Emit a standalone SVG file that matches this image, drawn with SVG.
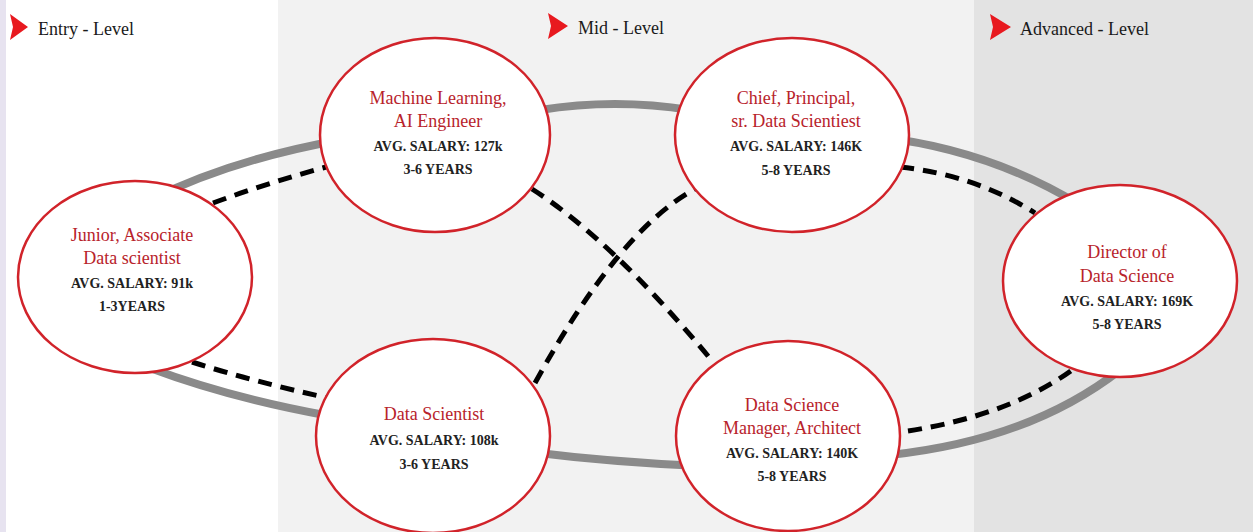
<svg xmlns="http://www.w3.org/2000/svg" width="1253" height="532" viewBox="0 0 1253 532">
<style>
.zone-label{font-family:"Liberation Serif","Times New Roman",serif;font-size:18px;fill:#1a1a1a}
.tri{fill:#e8191f}
.node ellipse{fill:#ffffff;stroke:#d1232a;stroke-width:2.5}
.title{font-family:"Liberation Serif","Times New Roman",serif;font-size:18px;fill:#b8232b;text-anchor:middle}
.info{font-family:"Liberation Serif","Times New Roman",serif;font-size:14px;font-weight:bold;fill:#222222;text-anchor:middle}
.solid{fill:none;stroke:#8a8a8a;stroke-width:8;stroke-linecap:butt}
.dash{fill:none;stroke:#000000;stroke-width:5;stroke-dasharray:14 9}
</style>
<g id="background">
<rect x="0" y="0" width="1253" height="532" fill="#ffffff"/>
<rect x="0" y="0" width="6" height="532" fill="#e7e3f0"/>
<rect x="278" y="0" width="696" height="532" fill="#f2f2f2"/>
<rect x="974" y="0" width="279" height="532" fill="#e3e3e3"/>
</g>
<g id="level-labels">
<polygon class="tri" points="10,14 28,27 10,40 13,27"/>
<text class="zone-label" x="38" y="35">Entry - Level</text>
<polygon class="tri" points="548,13 568,26 548,39 551,26"/>
<text class="zone-label" x="578" y="34">Mid - Level</text>
<polygon class="tri" points="990,14 1011,27 990,40 993,27"/>
<text class="zone-label" x="1020" y="35">Advanced - Level</text>
</g>
<g id="connectors">
<path class="solid" d="M150 200 Q230 160 340 140"/>
<path class="solid" d="M540 110 Q615 98 690 110"/>
<path class="solid" d="M880 137 Q990 150 1080 205"/>
<path class="solid" d="M150 368 Q230 398 330 416"/>
<path class="solid" d="M530 452 Q610 462 700 466"/>
<path class="solid" d="M890 455 Q1030 440 1120 370"/>
<path class="dash" d="M213 203 Q270 182 330 166"/>
<path class="dash" d="M192 362 Q255 382 328 398"/>
<path class="dash" d="M532 189 Q612 240 713 362"/>
<path class="dash" d="M535 383 Q619 230 695 189"/>
<path class="dash" d="M900 167 Q975 175 1035 213"/>
<path class="dash" d="M908 431 Q1010 415 1072 370"/>
</g>
<g id="node-junior" class="node">
<ellipse cx="135" cy="277" rx="117" ry="96"/>
<text class="title" x="132" y="241">Junior, Associate</text>
<text class="title" x="132" y="264">Data scientist</text>
<text class="info" x="132" y="288">AVG. SALARY: 91k</text>
<text class="info" x="132" y="311">1-3YEARS</text>
</g>
<g id="node-ml" class="node">
<ellipse cx="435" cy="135" rx="115" ry="97"/>
<text class="title" x="438" y="104">Machine Learning,</text>
<text class="title" x="438" y="127">AI Engineer</text>
<text class="info" x="438" y="151">AVG. SALARY: 127k</text>
<text class="info" x="438" y="174">3-6 YEARS</text>
</g>
<g id="node-chief" class="node">
<ellipse cx="792" cy="135" rx="117" ry="97"/>
<text class="title" x="796" y="104">Chief, Principal,</text>
<text class="title" x="796" y="127">sr. Data Scientiest</text>
<text class="info" x="796" y="151">AVG. SALARY: 146K</text>
<text class="info" x="796" y="175">5-8 YEARS</text>
</g>
<g id="node-director" class="node">
<ellipse cx="1120" cy="281" rx="117" ry="96"/>
<text class="title" x="1127" y="258">Director of</text>
<text class="title" x="1127" y="282">Data Science</text>
<text class="info" x="1127" y="306">AVG. SALARY: 169K</text>
<text class="info" x="1127" y="329">5-8 YEARS</text>
</g>
<g id="node-datascientist" class="node">
<ellipse cx="433" cy="436" rx="117" ry="97"/>
<text class="title" x="434" y="420">Data Scientist</text>
<text class="info" x="434" y="445">AVG. SALARY: 108k</text>
<text class="info" x="434" y="469">3-6 YEARS</text>
</g>
<g id="node-manager" class="node">
<ellipse cx="788" cy="436" rx="112" ry="95"/>
<text class="title" x="792" y="411">Data Science</text>
<text class="title" x="792" y="434">Manager, Architect</text>
<text class="info" x="792" y="458">AVG. SALARY: 140K</text>
<text class="info" x="792" y="481">5-8 YEARS</text>
</g>
</svg>
